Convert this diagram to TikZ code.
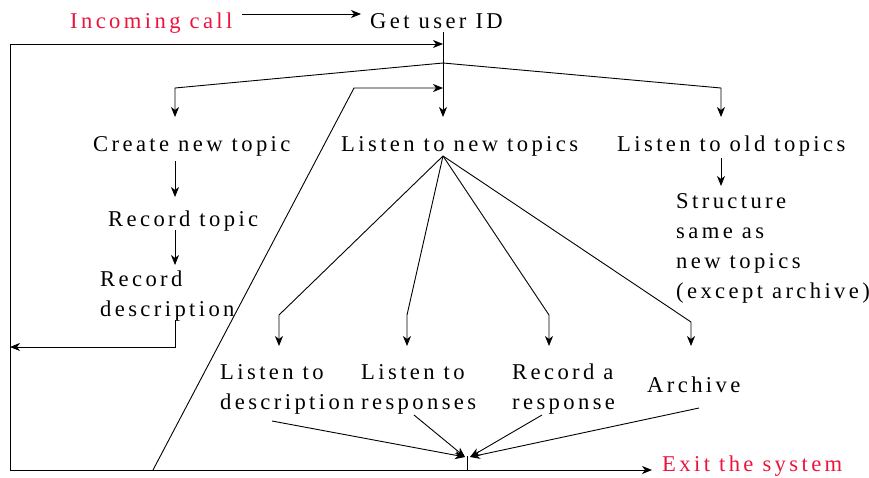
\documentclass[tikz,border=0pt]{standalone}
\usepackage{fontspec}
\setmainfont{Liberation Serif}[LetterSpace=15]
\usetikzlibrary{arrows.meta}
\definecolor{exitred}{RGB}{235,20,60}
\begin{document}
\begin{tikzpicture}[x=1pt,y=-1pt,
  txt/.style={anchor=base west,inner sep=0pt,align=left,font=\fontsize{22.6}{30}\selectfont},
  redtxt/.style={txt,text=exitred},
  ln/.style={line width=0.9pt},
  arr/.style={ln,-{Stealth[length=10pt,width=8pt,inset=3pt]}}]
\useasboundingbox (0,0) rectangle (869,477);
% texts (base = baseline of the last line)
\node[redtxt] (inc) at (70,28) {Incoming call};
\node[txt] (uid) at (370,28) {Get user ID};
\node[txt] (cnt) at (93,151) {Create new topic};
\node[txt] (lnt) at (341,151) {Listen to new topics};
\node[txt] (lot) at (617,151) {Listen to old topics};
\node[txt] (rt) at (108,226) {Record topic};
\node[txt] (rd) at (100,316) {Record\\description};
\node[txt] (ss) at (676,298) {Structure\\same as\\new topics\\(except archive)};
\node[txt] (ltd) at (220,409) {Listen to\\description};
\node[txt] (ltr) at (361,409) {Listen to\\responses};
\node[txt] (rar) at (512,409) {Record a\\response};
\node[txt] (arc) at (647,392) {Archive};
\node[redtxt] (ex) at (662,471) {Exit the system};
% coordinates
\coordinate (incE) at (242,14); \coordinate (uidW) at (361,14);
\coordinate (uidS) at (443,32); \coordinate (lntN) at (443,117);
\coordinate (loopTL) at (10,44); \coordinate (loopJ) at (443,44);
\coordinate (loopBL) at (10,470); \coordinate (exW) at (652,470);
\coordinate (split) at (443,63);
\coordinate (cntK) at (175,88); \coordinate (cntN) at (175,117);
\coordinate (lotK) at (721,88); \coordinate (lotN) at (721,117);
\coordinate (slB) at (153,470); \coordinate (slT) at (354,88); \coordinate (slJ) at (443,88);
\coordinate (cntS) at (175,161); \coordinate (rtN) at (175,197);
\coordinate (rtS) at (175,230); \coordinate (rdN) at (175,265);
\coordinate (rdS) at (175,320); \coordinate (rdK) at (175,347); \coordinate (rdL) at (10,347);
\coordinate (lotS) at (721,158); \coordinate (ssN) at (721,186);
\coordinate (fan) at (443,156);
\coordinate (k1) at (279,315); \coordinate (t1) at (279,346);
\coordinate (k2) at (407,315); \coordinate (t2) at (407,346);
\coordinate (k3) at (549,315); \coordinate (t3) at (549,346);
\coordinate (k4) at (691,322); \coordinate (t4) at (691,346);
\coordinate (s1) at (272,421); \coordinate (s2) at (414,415);
\coordinate (s3) at (542,415); \coordinate (s4) at (699,408);
\coordinate (m1) at (465,457); \coordinate (m2) at (470,457);
\coordinate (mt) at (467,456); \coordinate (mb) at (467,470);
% connectors
\draw[arr] (incE) -- (uidW);
\draw[arr] (uidS) -- (lntN);
\draw[arr] (loopBL) -- (loopTL) -- (loopJ);
\draw[arr] (loopBL) -- (exW);
\draw[arr] (split) -- (cntK) -- (cntN);
\draw[arr] (split) -- (lotK) -- (lotN);
\draw[arr] (slB) -- (slT) -- (slJ);
\draw[arr] (cntS) -- (rtN);
\draw[arr] (rtS) -- (rdN);
\draw[arr] (rdS) -- (rdK) -- (rdL);
\draw[arr] (lotS) -- (ssN);
\draw[arr] (fan) -- (k1) -- (t1);
\draw[arr] (fan) -- (k2) -- (t2);
\draw[arr] (fan) -- (k3) -- (t3);
\draw[arr] (fan) -- (k4) -- (t4);
\draw[arr] (s1) -- (m1);
\draw[arr] (s2) -- (m1);
\draw[arr] (s3) -- (m2);
\draw[arr] (s4) -- (m2);
\draw[ln] (mt) -- (mb);
\end{tikzpicture}
\end{document}
